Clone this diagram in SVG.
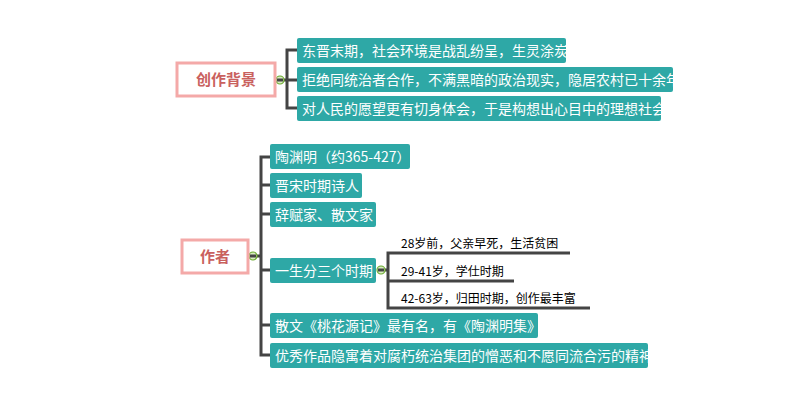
<svg xmlns="http://www.w3.org/2000/svg" width="800" height="411" viewBox="0 0 800 411">
<style>
.root rect{fill:#fff;stroke:#f4a9a8;stroke-width:3}
.root text{fill:#c9615e;font:bold 15px "Noto Sans CJK SC",sans-serif;text-anchor:middle}
.n rect{fill:#2ea8a6;rx:2}
.n text{fill:#fff;font:14px "Noto Sans CJK SC",sans-serif}
.s text{fill:#000;font:12px "Noto Sans CJK SC",sans-serif}
.c path{fill:none;stroke:#444;stroke-width:3}
.tg{fill:#d8ecc0;stroke:#6aaa2e;stroke-width:1.2}
</style>
<g class="c">
<path d="M284,80H287 M297,50H287V108H297 M287,80H297"/>
<path d="M257,256H261 M270,157H261V355H270 M261,185H270 M261,214H270 M261,270H270 M261,325H270"/>
<path d="M385,270H388 M570,253H388V308H590 M388,281H514"/>
<circle class="tg" cx="280" cy="80" r="4"/>
<path d="M277,80H283" stroke-width="1" stroke="#6aaa2e"/>
<circle class="tg" cx="253" cy="256" r="4"/>
<path d="M250,256H256" stroke-width="1" stroke="#6aaa2e"/>
<circle class="tg" cx="381" cy="270" r="4"/>
<path d="M378,270H384" stroke-width="1" stroke="#6aaa2e"/>
</g>
<g id="bg" class="root"><rect x="177" y="63" width="98" height="33"/><text x="226" y="85">创作背景</text></g>
<g id="bg1" class="n"><rect x="297" y="38" width="269" height="25"/><text x="302" y="56">东晋末期，社会环境是战乱纷呈，生灵涂炭</text></g>
<g id="bg2" class="n"><rect x="297" y="67" width="376" height="25"/><text x="302" y="85">拒绝同统治者合作，不满黑暗的政治现实，隐居农村已十余年</text></g>
<g id="bg3" class="n"><rect x="297" y="96" width="364" height="25"/><text x="302" y="114">对人民的愿望更有切身体会，于是构想出心目中的理想社会</text></g>
<g id="zz" class="root"><rect x="182" y="240" width="66" height="33"/><text x="215" y="262">作者</text></g>
<g id="a1" class="n"><rect x="270" y="144" width="140" height="25"/><text x="275" y="162">陶渊明（约365-427）</text></g>
<g id="a2" class="n"><rect x="270" y="173" width="92" height="25"/><text x="275" y="191">晋宋时期诗人</text></g>
<g id="a3" class="n"><rect x="270" y="202" width="106" height="25"/><text x="275" y="220">辞赋家、散文家</text></g>
<g id="a4" class="n"><rect x="270" y="258" width="106" height="25"/><text x="275" y="276">一生分三个时期</text></g>
<g id="p1" class="s"><text x="401" y="248">28岁前，父亲早死，生活贫困</text></g>
<g id="p2" class="s"><text x="401" y="276">29-41岁，学仕时期</text></g>
<g id="p3" class="s"><text x="401" y="303">42-63岁，归田时期，创作最丰富</text></g>
<g id="a5" class="n"><rect x="270" y="313" width="268" height="25"/><text x="275" y="331">散文《桃花源记》最有名，有《陶渊明集》</text></g>
<g id="a6" class="n"><rect x="270" y="343" width="378" height="25"/><text x="275" y="361">优秀作品隐寓着对腐朽统治集团的憎恶和不愿同流合污的精神</text></g>
</svg>
